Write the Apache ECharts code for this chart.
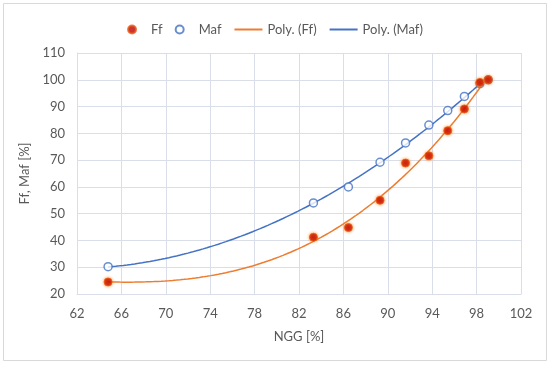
<!DOCTYPE html>
<html><head><meta charset="utf-8">
<script src="https://cdn.jsdelivr.net/npm/echarts@6/dist/echarts.min.js"></script>
<style>html,body{margin:0;padding:0;background:#fff}#c{width:550px;height:365px}</style>
</head><body><div id="c"></div>
<script>
const ngg = [64.8, 83.3, 86.45, 89.3, 91.6, 93.7, 95.4, 96.9, 98.3, 99.05];
const ff  = [24.5, 41.2, 44.8, 55.0, 68.9, 71.6, 81.0, 89.1, 99.0, 100.0];
const maf = [30.2, 54.0, 60.0, 69.2, 76.4, 83.1, 88.5, 93.8, 98.6, 100.0];
const xTicks = [62,66,70,74,78,82,86,90,94,98,102];
const yTicks = [20,30,40,50,60,70,80,90,100,110];

// Excel-style polynomial trendline (least squares) computed from the data
function polyFit(xs, ys, order){
  const m=order+1, A=[];
  for(let r=0;r<m;r++){A.push(new Array(m+1).fill(0));}
  const x0=xs.reduce((a,b)=>a+b,0)/xs.length;
  for(let i=0;i<xs.length;i++){
    const u=xs[i]-x0;
    for(let r=0;r<m;r++){
      for(let c=0;c<m;c++) A[r][c]+=Math.pow(u,r+c);
      A[r][m]+=Math.pow(u,r)*ys[i];
    }
  }
  for(let i=0;i<m;i++){for(let j=i+1;j<m;j++){const f=A[j][i]/A[i][i];for(let k=i;k<=m;k++)A[j][k]-=f*A[i][k];}}
  const c=new Array(m).fill(0);
  for(let i=m-1;i>=0;i--){let v=A[i][m];for(let k=i+1;k<m;k++)v-=A[i][k]*c[k];c[i]=v/A[i][i];}
  return x=>{let s=0;for(let k=0;k<m;k++)s+=c[k]*Math.pow(x-x0,k);return s;};
}
function trend(xs, ys, order){
  const f=polyFit(xs,ys,order), lo=Math.min(...xs), hi=Math.max(...xs), out=[];
  const N=100;
  for(let i=0;i<=N;i++){const x=lo+(hi-lo)*i/N;out.push([x,f(x)]);}
  return out;
}
const txt='#595959', grid='#D9DEE8', font='Lato';
const hideDot={color:'rgba(0,0,0,0)',borderWidth:0,opacity:0};
const chart=echarts.init(document.getElementById('c'),null,{renderer:'canvas'});
chart.setOption({
  animation:false,
  textStyle:{fontFamily:font,color:txt},
  graphic:[{type:'rect',shape:{x:3.5,y:3.5,width:543,height:357},style:{fill:'none',stroke:'#D9D9D9',lineWidth:1}}],
  legend:{top:18,left:'center',itemGap:12,itemWidth:28,itemHeight:8,
    textStyle:{fontFamily:font,fontSize:13,color:txt},
    data:[{name:'Ff',icon:'circle'},{name:'Maf',icon:'circle'},
      {name:'Poly. (Ff)',itemStyle:hideDot},{name:'Poly. (Maf)',itemStyle:hideDot}]},
  grid:{left:77,right:29,top:53,bottom:71},
  xAxis:{type:'value',min:62,max:102,interval:4,name:'NGG [%]',nameLocation:'middle',nameGap:36,
    nameTextStyle:{fontFamily:font,fontSize:13,color:txt},
    axisLine:{show:true,lineStyle:{color:grid}},axisTick:{show:false},
    axisLabel:{fontFamily:font,fontSize:13,color:txt,margin:13},
    splitLine:{show:true,lineStyle:{color:grid,width:1}}},
  yAxis:{type:'value',min:20,max:110,interval:10,name:'Ff, Maf [%]',nameLocation:'middle',nameGap:27,
    nameTextStyle:{fontFamily:font,fontSize:13,color:txt},
    axisLine:{show:true,lineStyle:{color:grid}},axisTick:{show:false},
    axisLabel:{fontFamily:font,fontSize:13,color:txt,margin:12},
    splitLine:{show:true,lineStyle:{color:grid,width:1}}},
  series:[
    {name:'Poly. (Ff)',type:'line',data:trend(ngg,ff,3),symbol:'none',z:2,
      lineStyle:{color:'#ED7D31',width:1.5},itemStyle:{color:'#ED7D31'}},
    {name:'Poly. (Maf)',type:'line',data:trend(ngg,maf,2),symbol:'none',z:2,
      lineStyle:{color:'#4472C4',width:1.5},itemStyle:{color:'#4472C4'}},
    {name:'Maf',type:'scatter',data:ngg.map((x,i)=>[x,maf[i]]),symbol:'circle',symbolSize:8,z:3,
      itemStyle:{color:'#fff',borderColor:'#4472C4',borderWidth:1.5}},
    {name:'Ff',type:'scatter',data:ngg.map((x,i)=>[x,ff[i]]),symbol:'circle',symbolSize:8,z:4,
      itemStyle:{color:'#C00000',borderColor:'#E8601C',borderWidth:1,shadowBlur:3,shadowColor:'rgba(255,130,0,0.9)'}}
  ]
});
</script></body></html>
